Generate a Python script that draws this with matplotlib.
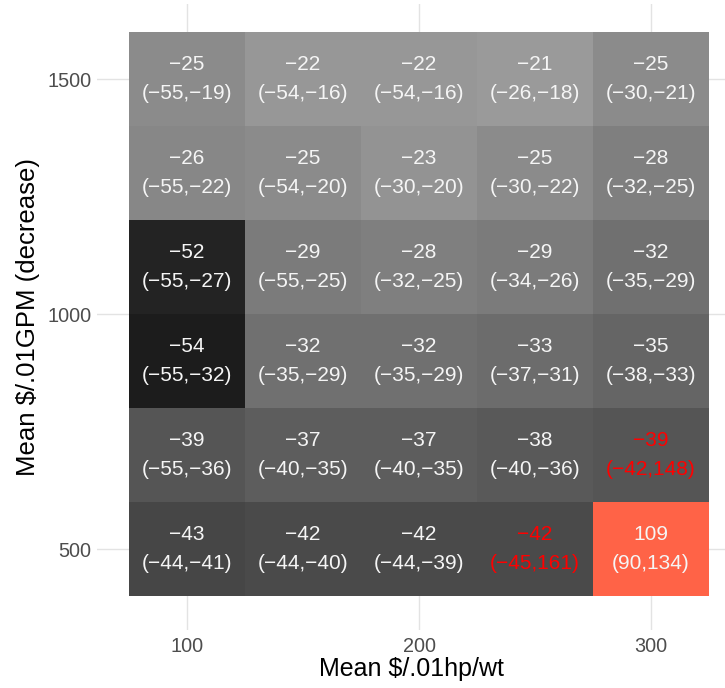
import matplotlib
matplotlib.use("Agg")
import matplotlib.pyplot as plt
import numpy as np
from matplotlib.colors import LinearSegmentedColormap, Normalize

plt.rcParams["font.family"] = ["Liberation Sans", "DejaVu Sans"]

# hp/wt cost (columns) and GPM cost (rows, bottom to top)
hp_cost = [100, 150, 200, 250, 300]
gpm_cost = [500, 700, 900, 1100, 1300, 1500]

mean_vals = [
    [-43, -42, -42, -42, 109],
    [-39, -37, -37, -38, -39],
    [-54, -32, -32, -33, -35],
    [-52, -29, -28, -29, -32],
    [-26, -25, -23, -25, -28],
    [-25, -22, -22, -21, -25],
]
lower_vals = [
    [-44, -44, -44, -45, 90],
    [-55, -40, -40, -40, -42],
    [-55, -35, -35, -37, -38],
    [-55, -55, -32, -34, -35],
    [-55, -54, -30, -30, -32],
    [-55, -54, -54, -26, -30],
]
upper_vals = [
    [-41, -40, -39, 161, 134],
    [-36, -35, -35, -36, 148],
    [-32, -29, -29, -31, -33],
    [-27, -25, -25, -26, -29],
    [-22, -20, -20, -22, -25],
    [-19, -16, -16, -18, -21],
]

means = np.array(mean_vals)
lows = np.array(lower_vals)
highs = np.array(upper_vals)

dx = (hp_cost[1] - hp_cost[0]) / 2
dy = (gpm_cost[1] - gpm_cost[0]) / 2
x_edges = np.append(np.array(hp_cost) - dx, hp_cost[-1] + dx)
y_edges = np.append(np.array(gpm_cost) - dy, gpm_cost[-1] + dy)

cmap = LinearSegmentedColormap.from_list("greys", ["#1c1c1c", "#9a9a9a"])
cmap.set_over("#ff6347")
norm = Normalize(vmin=-54, vmax=-21)

fig = plt.figure(figsize=(7.25, 6.88), dpi=100)
ax = fig.add_axes([97 / 725, 58 / 688, 628 / 725, 626 / 688])

ax.set_xlim(61.2, 331.9)
ax.set_ylim(327.7, 1659.6)

for v in [100, 200, 300]:
    ax.axvline(v, color="#e3e3e3", lw=1.0, zorder=0)
for v in [500, 1000, 1500]:
    ax.axhline(v, color="#e3e3e3", lw=1.0, zorder=0)

ax.pcolormesh(x_edges, y_edges, means, cmap=cmap, norm=norm, zorder=1)

minus = "\u2212"
for i, yv in enumerate(gpm_cost):
    for j, xv in enumerate(hp_cost):
        lo, hi = lows[i, j], highs[i, j]
        label = f"{means[i, j]}\n({lo},{hi})".replace("-", minus)
        color = "#ff0000" if lo < 0 < hi else "#f5f5f5"
        ax.text(xv, yv, label, ha="center", va="center", fontsize=15,
                linespacing=1.7, color=color, zorder=2)

for s in ax.spines.values():
    s.set_visible(False)
ax.set_facecolor("white")
ax.set_xticks([100, 200, 300])
ax.set_yticks([500, 1000, 1500])
ax.tick_params(axis="both", length=0, labelsize=14.3, labelcolor="#4d4d4d")
ax.tick_params(axis="x", pad=5)
ax.tick_params(axis="y", pad=4)

ax.set_xlabel("Mean $/.01hp/wt", fontsize=18, color="black", labelpad=1)
ax.set_ylabel("Mean $/.01GPM (decrease)", fontsize=18.5, color="black", labelpad=5)

fig.savefig("out.png", dpi=100)
